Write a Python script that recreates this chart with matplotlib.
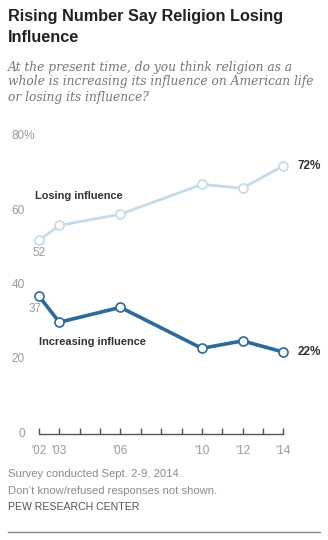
import numpy as np
import matplotlib.pyplot as plt
from matplotlib.ticker import FixedLocator

# Data (percent)
years = [2002, 2003, 2006, 2010, 2012, 2014]
losing = [52, 56, 59, 67, 66, 72]
increasing = [37, 30, 34, 23, 25, 22]
year_labels = ["'02", "'03", "'06", "'10", "'12", "'14"]
y_ticks = [0, 20, 40, 60, 80]

light_blue = "#c3dbea"
dark_blue = "#2b6a9c"
grey = "#9a9a9a"

W, H = 328, 540
fig = plt.figure(figsize=(W / 100, H / 100), dpi=100)
plt.rcParams['font.family'] = ['Liberation Sans', 'DejaVu Sans']

def px(x, y):
    # pixel coords (from top-left) -> figure fraction
    return x / W, 1 - y / H

# axes placed so that 2002 -> x=39px, 2014 -> x=283px, 0 -> y=434px, 80 -> y=136px
x0, x1 = 39.0, 283.3
per_year = (x1 - x0) / 12
left = x0 - per_year
right = x1 + per_year
ax = fig.add_axes([left / W, (H - 434) / H, (right - left) / W, (434 - 136) / H])
ax.set_xlim(2001, 2015)
ax.set_ylim(0, 80)

for s in ['left', 'right', 'top']:
    ax.spines[s].set_visible(False)
ax.spines['bottom'].set_bounds(2002, 2014)
ax.spines['bottom'].set_color('#555555')
ax.spines['bottom'].set_linewidth(1)

ax.xaxis.set_major_locator(FixedLocator(years))
ax.xaxis.set_minor_locator(FixedLocator(range(2002, 2015)))
ax.set_xticklabels(year_labels)
ax.tick_params(axis='x', which='both', direction='in', length=4, width=1,
               color='#555555', labelsize=8.5, labelcolor=grey, pad=8)
ax.set_yticks([])

# y labels drawn by hand so the % can hang off the top one
for v in y_ticks[:-1]:
    ax.text(2001.3, v, str(v), ha='right', va='center', fontsize=8.5, color=grey)
ax.text(2000.66, y_ticks[-1], f"{y_ticks[-1]}%", ha='left', va='center',
        fontsize=8.5, color=grey)

ax.plot(years, losing, color=light_blue, lw=2, marker='o', ms=6.5,
        mfc='white', mec=light_blue, mew=1.2, clip_on=False, zorder=3)
ax.plot(years, increasing, color=dark_blue, lw=2.6, marker='o', ms=6.5,
        mfc='white', mec=dark_blue, mew=1.2, clip_on=False, zorder=3)

# series labels and end values
ax.text(2001.8, 63.8, "Losing influence", fontsize=7.9, fontweight='bold',
        color='#333333', va='center')
ax.text(2002.0, 24.7, "Increasing influence", fontsize=7.9, fontweight='bold',
        color='#333333', va='center')
ax.text(years[0], losing[0] - 3.5, str(losing[0]), ha='center', va='center',
        fontsize=8.5, color=grey)
ax.text(years[0] + 0.15, increasing[0] - 3.4, str(increasing[0]), ha='right',
        va='center', fontsize=8.5, color=grey)
ax.text(years[-1] + 0.7, losing[-1], f"{losing[-1]}%", ha='left', va='center',
        fontsize=8.5, fontweight='bold', color='#333333')
ax.text(years[-1] + 0.7, increasing[-1], f"{increasing[-1]}%", ha='left',
        va='center', fontsize=8.5, fontweight='bold', color='#333333')

# title, subtitle, notes
fig.text(*px(8, 17), "Rising Number Say Religion Losing", fontsize=11.7,
         fontweight='bold', color='#222222', va='center', ha='left')
fig.text(*px(8, 37), "Influence", fontsize=11.7, fontweight='bold',
         color='#222222', va='center', ha='left')
sub = ["At the present time, do you think religion as a",
       "whole is increasing its influence on American life",
       "or losing its influence?"]
for i, line in enumerate(sub):
    fig.text(*px(8, 67 + 15 * i), line, fontsize=8.85, style='italic',
             family=['DejaVu Serif'], color='#777777', va='center', ha='left')

fig.text(*px(8, 474), "Survey conducted Sept. 2-9, 2014.", fontsize=8.1,
         color='#8a8a8a', va='center')
fig.text(*px(8, 490.5), "Don\u2019t know/refused responses not shown.",
         fontsize=8.1, color='#8a8a8a', va='center')
fig.text(*px(8, 507), "PEW RESEARCH CENTER", fontsize=7.6, color='#555555',
         va='center')
fig.add_artist(plt.Line2D([8 / W, 320 / W], [1 - 532 / H] * 2,
                          color='#888888', lw=1))

fig.savefig("out.png", dpi=100)
